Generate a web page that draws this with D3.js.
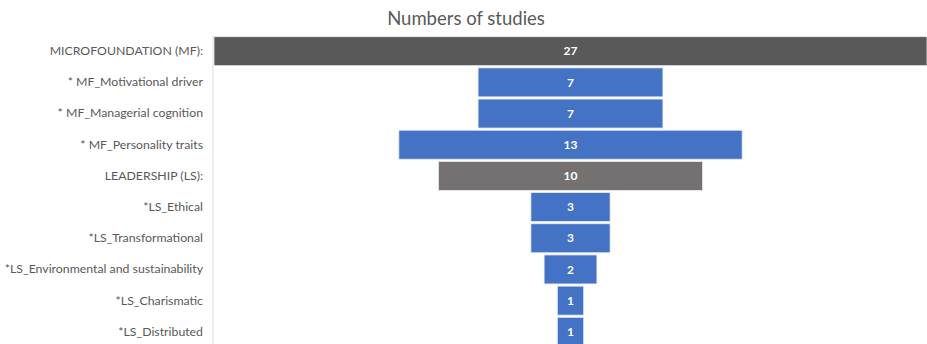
<!DOCTYPE html>
<html>
<head>
<meta charset="utf-8">
<script src="https://cdn.jsdelivr.net/npm/d3@7"></script>
<style>
  body { margin: 0; background: #fff; }
  text { font-family: Lato, "Open Sans", sans-serif; }
</style>
</head>
<body>
<div class="chart"></div>
<script>
var w = 927, h = 344;

// data
var categories = [
	'MICROFOUNDATION (MF):',
	'* MF_Motivational driver',
	'* MF_Managerial cognition',
	'* MF_Personality traits',
	'LEADERSHIP (LS):',
	'*LS_Ethical',
	'*LS_Transformational',
	'*LS_Environmental and sustainability',
	'*LS_Charismatic',
	'*LS_Distributed'
];
var studies = [27, 7, 7, 13, 10, 3, 3, 2, 1, 1];
var groups = ['head', 'sub', 'sub', 'sub', 'head2', 'sub', 'sub', 'sub', 'sub', 'sub'];

var colors = { head: '#595959', head2: '#767171', sub: '#4472c4' };

var data = categories.map(function(c, i) {
	return { name: c, value: studies[i], group: groups[i] };
});

var max = d3.max(studies);

// funnel: bars centred on zero
var xScale = d3.scaleLinear()
			.domain([-max / 2, max / 2])
			.range([214, 927]);

var yScale = d3.scaleBand()
			.domain(categories)
			.range([35.6, 347.4])
			.paddingInner(0.07)
			.paddingOuter(0.035);

var svg = d3.select('.chart').append('svg')
			.attr('width', w)
			.attr('height', h);

svg.append('text')
	.attr('x', 466)
	.attr('y', 25)
	.attr('text-anchor', 'middle')
	.attr('fill', '#595959')
	.style('font-size', '18.5px')
	.text('Numbers of studies');

// category axis on the left
var yAxis = d3.axisLeft(yScale).tickSize(0).tickPadding(10);

var gy = svg.append('g')
			.attr('transform', 'translate(213,0)')
			.call(yAxis);

gy.select('.domain')
	.attr('stroke', '#d9dde6')
	.attr('d', 'M0,' + 36 + 'V' + h);

gy.selectAll('text')
	.attr('fill', '#595959')
	.style('font-size', '12.3px')
	.style('font-family', 'Lato, sans-serif');

var bars = svg.selectAll('.bar')
			.data(data)
		.enter()
		.append('g')
			.attr('class', 'bar');

bars.append('rect')
	.attr('x', function(d) { return xScale(-d.value / 2); })
	.attr('y', function(d) { return yScale(d.name); })
	.attr('width', function(d) { return xScale(d.value / 2) - xScale(-d.value / 2); })
	.attr('height', yScale.bandwidth())
	.attr('fill', function(d) { return colors[d.group]; })
	.attr('stroke', '#e6ebf5')
	.attr('stroke-width', 0.8);

bars.append('text')
	.attr('x', xScale(0))
	.attr('y', function(d) { return yScale(d.name) + yScale.bandwidth() / 2; })
	.attr('dy', '0.35em')
	.attr('text-anchor', 'middle')
	.attr('fill', '#ffffff')
	.style('font-size', '12px')
	.style('font-weight', 'bold')
	.text(function(d) { return d.value; });
</script>
</body>
</html>
